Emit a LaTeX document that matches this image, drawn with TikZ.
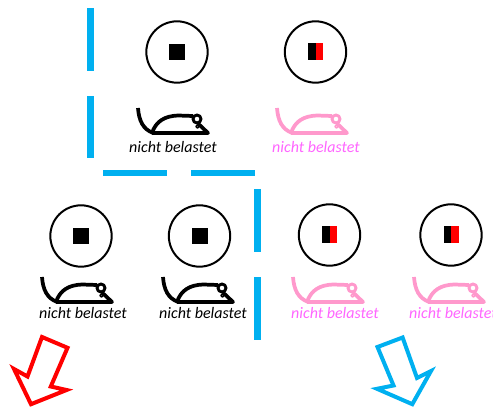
\documentclass[tikz,border=0pt]{standalone}
\usepackage{fontspec}
\setmainfont{Carlito}
\definecolor{barblue}{RGB}{0,176,240}
\definecolor{mpink}{RGB}{255,153,204}
\definecolor{tpink}{RGB}{255,102,255}
\tikzset{
  x=0.75pt,y=-0.75pt,
  bar/.style={fill=barblue,draw=none},
  cell/.style={circle,draw=black,line width=1.5pt,minimum size=46pt,inner sep=0pt},
  arrowred/.style={draw=red,line width=3pt,miter limit=10,fill=white},
  arrowblue/.style={draw=barblue,line width=3pt,miter limit=10,fill=white},
  lbl/.style={font=\itshape\fontsize{12}{14}\selectfont,inner sep=0pt,text=#1},
  pics/mouse/.style={code={
    \begin{scope}[draw=#1,line width=2.8pt,line join=round]
      \draw (1,0) .. controls (2,13) and (6,21) .. (16,25);
      \draw (15,25) .. controls (19,13) and (28,8) .. (41,7.5) -- (56,8);
      \draw (15,25) -- (71,25) -- (61,15.5);
      \draw[line width=2.2pt] (60,11) circle[radius=4];
      \draw[line width=1pt] (60.5,18.5) circle[radius=1.6];
    \end{scope}
  }}
}
\newcommand{\geno}[3]{%
  \node[cell] (#3) at (#1,#2) {};
  \fill[black] (#1-7.5,#2-9) rectangle (#1,#2+8);
  \fill[red] (#1,#2-9) rectangle (#1+7.5,#2+8);
}
\newcommand{\genoblack}[3]{%
  \node[cell] (#3) at (#1,#2) {};
  \fill[black] (#1-8,#2-8) rectangle (#1+8,#2+8);
}
\begin{document}
\begin{tikzpicture}
\useasboundingbox (0,0) rectangle (493,409);
% bars
\fill[bar] (87,8) rectangle (94,71);
\fill[bar] (87,96) rectangle (94,158);
\fill[bar] (103,170.5) rectangle (167,176.5);
\fill[bar] (191,170.5) rectangle (255,176.5);
\fill[bar] (253.5,189) rectangle (260.5,252);
\fill[bar] (253.5,277) rectangle (260.5,340);
% cells
\genoblack{177}{52}{c1}
\geno{315.5}{52}{c2}
\genoblack{81}{236}{c3}
\genoblack{199.5}{236}{c4}
\geno{329.5}{235}{c5}
\geno{451}{235}{c6}
% mice
\pic at (137,108) {mouse=black};
\pic at (276,108) {mouse=mpink};
\pic at (41,277) {mouse=black};
\pic at (162,277) {mouse=black};
\pic at (292,277) {mouse=mpink};
\pic at (413,277) {mouse=mpink};
% labels
\node[lbl=black] (l1) at (173,147) {nicht belastet};
\node[lbl=tpink] (l2) at (316,147) {nicht belastet};
\node[lbl=black] (l3) at (83,313) {nicht belastet};
\node[lbl=black] (l4) at (203,313) {nicht belastet};
\node[lbl=tpink] (l5) at (335,313) {nicht belastet};
\node[lbl=tpink] (l6) at (453,313) {nicht belastet};
% arrows
\draw[arrowred] (42,337) -- (67.5,347.8) -- (50.8,386.5) -- (66.5,390) -- (31,404.2) -- (14,369) -- (27.5,376.5) -- cycle;
\draw[arrowblue] (402.6,337.5) -- (417,378) -- (431,371) -- (412.3,404.2) -- (377,388.8) -- (393.5,385.5) -- (377.5,347) -- cycle;
\end{tikzpicture}
\end{document}
